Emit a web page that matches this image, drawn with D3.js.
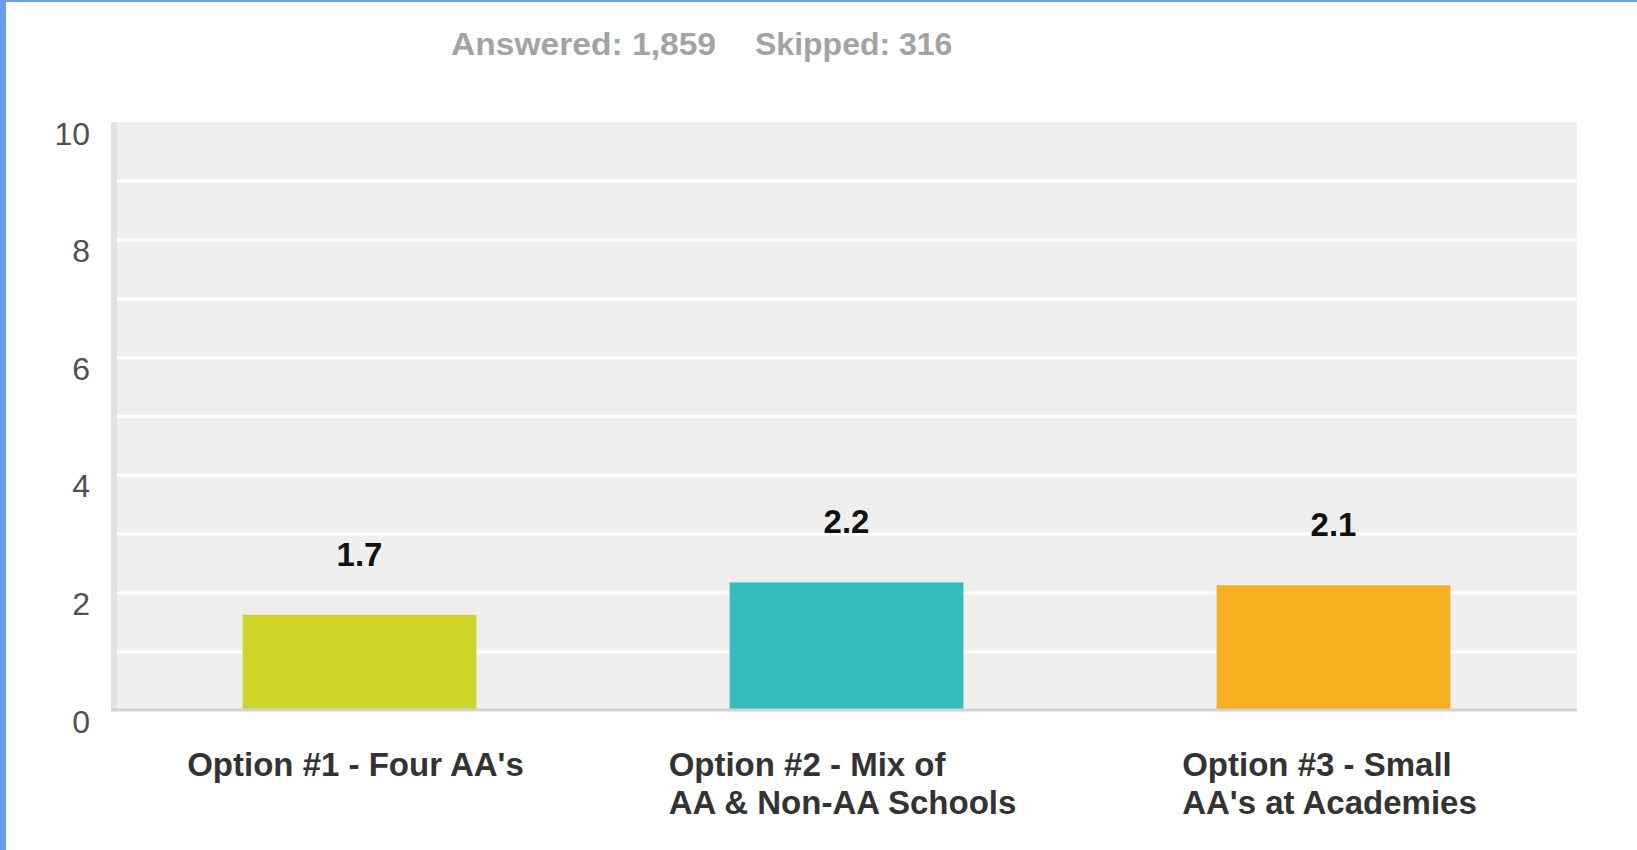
<!DOCTYPE html>
<html>
<head>
<meta charset="utf-8">
<script src="https://cdn.jsdelivr.net/npm/d3@7"></script>
<style>
  html, body { margin: 0; padding: 0; background: #fff; }
  svg { display: block; font-family: "Liberation Sans", Arial, sans-serif; }
</style>
</head>
<body>
<svg id="chart" width="1637" height="850"></svg>
<script>
// ---- data ----
const categories = [
  ["Option #1 - Four AA's"],
  ["Option #2 - Mix of", "AA & Non-AA Schools"],
  ["Option #3 - Small", "AA's at Academies"]
];
const values = [1.62, 2.17, 2.12];
const valueLabels = ["1.7", "2.2", "2.1"];
const barColors = ["#cfd42a", "#34bcbf", "#f5af20"];
const yTickValues = [0, 2, 4, 6, 8, 10];
const gridValues = [1, 2, 3, 4, 5, 6, 7, 8, 9];
const answered = "Answered: 1,859";
const skipped = "Skipped: 316";

// ---- layout ----
const svg = d3.select("#chart");
const W = 1637, H = 850;
const plot = { left: 111, right: 1577, top: 122, bottom: 710 };
const innerLeft = 116;

// page borders
svg.append("rect").attr("x", 0).attr("y", 0).attr("width", W).attr("height", H).attr("fill", "#fff");
svg.append("rect").attr("x", 0).attr("y", 0).attr("width", 6).attr("height", H).attr("fill", "#6b9de8");
svg.append("rect").attr("x", 0).attr("y", 0).attr("width", W).attr("height", 2).attr("fill", "#6b9de8");

// header
svg.append("text").attr("x", 451).attr("y", 55)
  .attr("font-size", 32).attr("font-weight", "bold").attr("fill", "#a3a3a3")
  .attr("textLength", 265).attr("lengthAdjust", "spacingAndGlyphs")
  .text(answered);
svg.append("text").attr("x", 755).attr("y", 55)
  .attr("font-size", 32).attr("font-weight", "bold").attr("fill", "#a3a3a3")
  .text(skipped);

// scales
const y = d3.scaleLinear().domain([0, 10]).range([plot.bottom, plot.top]);
const x = d3.scaleBand().domain(d3.range(categories.length))
  .range([innerLeft, plot.right]).padding(0);
const barW = x.bandwidth() * 0.48;

// plot background
svg.append("rect").attr("x", plot.left).attr("y", plot.top)
  .attr("width", plot.right - plot.left).attr("height", plot.bottom - plot.top)
  .attr("fill", "#efefef");
// left shadow strip
svg.append("rect").attr("x", plot.left).attr("y", plot.top)
  .attr("width", innerLeft - plot.left + 1).attr("height", plot.bottom - plot.top)
  .attr("fill", "#e2e2e2");

// gridlines
const grid = svg.append("g").attr("transform", `translate(${innerLeft + 1},0)`)
  .call(d3.axisLeft(y).tickValues(gridValues).tickSize(-(plot.right - innerLeft - 1)).tickFormat(""));
grid.select(".domain").remove();
grid.selectAll(".tick line").attr("stroke", "#ffffff").attr("stroke-width", 3);

// bars
svg.append("g").selectAll("rect").data(values).join("rect")
  .attr("x", (d, i) => x(i) + (x.bandwidth() - barW) / 2)
  .attr("y", d => y(d))
  .attr("width", barW)
  .attr("height", d => y(0) - y(d))
  .attr("fill", (d, i) => barColors[i]);

// bottom axis line
svg.append("line").attr("x1", plot.left).attr("x2", plot.right)
  .attr("y1", plot.bottom).attr("y2", plot.bottom)
  .attr("stroke", "#d2d2d2").attr("stroke-width", 3);

// value labels
svg.append("g").selectAll("text").data(values).join("text")
  .attr("x", (d, i) => x(i) + x.bandwidth() / 2)
  .attr("y", d => y(d) - 49)
  .attr("text-anchor", "middle")
  .attr("font-size", 33).attr("font-weight", "bold").attr("fill", "#111")
  .text((d, i) => valueLabels[i]);

// y axis labels
const yAx = svg.append("g").attr("transform", "translate(90,0)")
  .call(d3.axisLeft(y).tickValues(yTickValues).tickSize(0).tickPadding(0).tickFormat(d3.format("d")));
yAx.select(".domain").remove();
yAx.selectAll(".tick text")
  .attr("font-size", 32).attr("fill", "#505050")
  .attr("font-family", "\"Liberation Sans\", Arial, sans-serif")
  .attr("dy", null).attr("y", 11).attr("dominant-baseline", "central");

// x axis category labels
const xAx = svg.append("g").attr("transform", `translate(0,${plot.bottom})`)
  .call(d3.axisBottom(x).tickSize(0).tickFormat(""));
xAx.select(".domain").remove();
xAx.selectAll(".tick").each(function(d) {
  const t = d3.select(this).append("text")
    .attr("font-size", 33).attr("font-weight", "bold").attr("fill", "#333")
    .attr("font-family", "\"Liberation Sans\", Arial, sans-serif")
    .attr("text-anchor", "start");
  const lines = categories[d];
  const spans = lines.map((ln, k) => t.append("tspan").attr("y", 66 + k * 38).text(ln));
  const maxW = d3.max(spans, s => s.node().getComputedTextLength());
  spans.forEach(s => s.attr("x", -maxW / 2 - 4));
});
</script>
</body>
</html>
